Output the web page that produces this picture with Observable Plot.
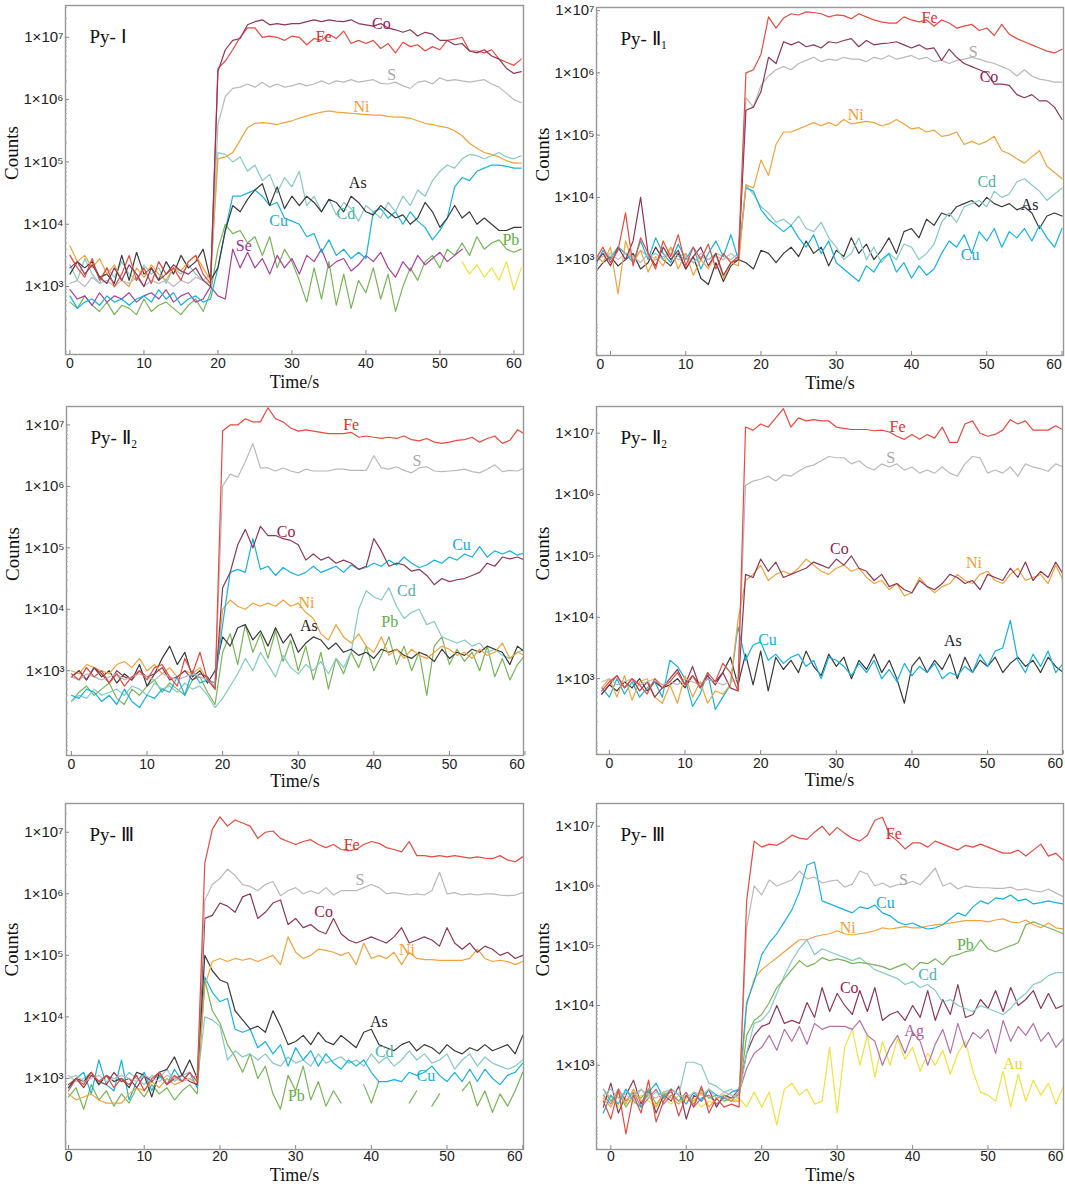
<!DOCTYPE html>
<html><head><meta charset="utf-8">
<script src="https://cdn.jsdelivr.net/npm/d3@7"></script>
<script src="https://cdn.jsdelivr.net/npm/@observablehq/plot@0.6"></script>
<style>
body{margin:0;background:#fff;}
#page{position:relative;width:1065px;height:1190px;overflow:hidden;background:#fff;}
.panel{position:absolute;}
</style></head><body><div id="page"></div>
<script>
// All series values are log10(counts), one value per second starting at each panel's t0.
const xTicks = [0, 10, 20, 30, 40, 50, 60];
const yTicks = [1e3, 1e4, 1e5, 1e6, 1e7];
const minorMultipliers = [2, 3, 4, 5, 6, 7, 8, 9];

// ---------- Py-I ----------
const pyI_t0 = 0;
const pyI_Fe = [3.5,3.3,3.15,3.45,3.1,3.3,3.0,3.2,3.5,3.1,3.3,3.05,3.4,3.2,3.3,3.1,3.4,3.5,3.2,3.05,6.5,6.62,6.8,7.0,7.15,7.15,7.0,7.02,7.0,6.95,7.02,7.0,6.88,6.98,6.95,7.05,6.98,7.1,6.9,6.95,6.9,6.95,6.82,6.9,6.75,6.92,6.85,6.88,6.78,6.85,6.8,6.95,6.97,7.0,6.78,6.78,6.75,6.8,6.65,6.6,6.55,6.65];
const pyI_Co = [3.3,3.4,3.2,3.35,3.15,3.05,3.3,3.1,3.35,3.2,3.0,3.3,3.1,3.2,3.35,3.25,3.2,3.3,3.1,3.0,6.45,6.8,6.95,6.98,7.2,7.25,7.28,7.2,7.22,7.2,7.22,7.22,7.25,7.28,7.25,7.28,7.26,7.25,7.28,7.22,7.2,7.18,7.22,7.15,7.12,7.08,7.12,7.02,7.08,7.05,6.95,6.95,6.88,6.9,6.78,6.75,6.8,6.7,6.65,6.5,6.42,6.45];
const pyI_S = [3.05,3.1,3.0,3.15,3.05,3.1,3.0,3.1,3.05,3.15,3.0,3.1,3.05,3.1,3.0,3.1,3.05,3.15,3.1,3.05,5.6,6.05,6.18,6.2,6.25,6.2,6.28,6.2,6.25,6.2,6.22,6.26,6.22,6.25,6.3,6.25,6.3,6.28,6.32,6.28,6.3,6.32,6.26,6.25,6.28,6.22,6.18,6.28,6.3,6.25,6.35,6.3,6.32,6.3,6.28,6.3,6.32,6.25,6.2,6.1,6.0,5.95];
const pyI_Ni = [3.65,3.4,3.5,3.3,3.45,3.2,3.35,3.1,3.0,3.3,3.15,3.35,3.2,3.1,3.3,3.25,3.4,3.5,3.3,3.1,5.05,5.08,5.15,5.35,5.55,5.62,5.63,5.62,5.6,5.63,5.66,5.7,5.74,5.77,5.8,5.82,5.8,5.79,5.78,5.77,5.76,5.75,5.75,5.73,5.72,5.72,5.7,5.66,5.62,5.6,5.57,5.55,5.5,5.42,5.3,5.22,5.15,5.12,5.08,5.02,4.98,4.98];
const pyI_Cd = [3.35,3.1,3.45,3.2,3.05,3.3,3.15,3.4,3.2,3.1,3.35,3.2,3.3,3.05,3.3,3.2,3.35,3.2,3.1,3.2,5.15,5.12,5.0,5.08,4.85,4.95,4.7,4.8,4.5,4.75,4.6,4.85,4.3,4.45,4.2,4.4,4.15,4.35,4.25,4.05,4.3,4.2,4.1,4.35,4.2,4.45,4.3,4.55,4.45,4.7,4.85,4.95,4.9,5.05,5.12,5.1,5.05,5.1,5.15,5.08,5.05,5.1];
const pyI_As = [3.2,3.4,3.3,3.4,3.15,3.2,3.05,3.5,3.1,3.55,3.2,3.3,3.1,3.4,3.2,3.5,3.3,3.4,3.6,3.1,3.3,3.9,4.3,4.2,4.4,4.55,4.65,4.3,4.6,4.25,4.45,4.3,4.45,4.35,4.2,4.4,4.35,4.2,4.45,4.35,4.2,4.15,4.3,4.2,4.1,4.15,4.0,4.1,4.35,4.2,3.95,4.1,4.3,4.1,4.2,4.0,4.1,4.0,3.9,3.9,3.95,3.95];
const pyI_Cu = [2.85,2.65,2.75,2.8,2.7,2.85,2.75,2.8,2.7,2.8,2.85,2.75,2.95,2.8,2.9,2.7,2.8,2.85,2.75,2.8,3.3,3.9,4.45,4.45,4.5,4.55,4.45,4.3,4.35,4.1,4.05,4.0,3.8,3.85,3.55,3.75,3.5,3.6,3.45,3.55,3.45,4.2,4.25,4.1,4.2,4.0,4.2,4.05,3.95,3.75,3.9,4.1,4.6,4.75,4.7,4.85,4.9,4.95,4.95,4.93,4.9,4.9];
const pyI_Se = [2.95,2.8,2.85,2.7,2.9,2.75,2.85,2.8,2.9,2.75,2.85,2.9,2.8,2.95,2.75,2.85,2.9,2.75,2.8,3.0,2.85,2.8,3.6,3.3,3.55,3.3,3.45,3.2,3.5,3.3,3.45,3.2,3.5,3.4,3.6,3.3,3.4,3.45,3.25,3.35,3.5,3.4,3.55,3.3,3.15,3.4,3.25,3.5,3.35,3.45,3.55,3.4,3.5,3.6];
const pyI_Pb = [2.75,2.65,2.85,2.7,2.6,2.75,2.55,2.7,2.65,2.55,2.8,2.6,2.7,2.75,2.65,2.55,2.7,2.8,2.6,2.9,3.6,4.0,3.85,3.9,3.7,3.8,3.5,3.8,3.3,3.6,3.4,3.1,2.75,3.3,2.8,3.4,2.7,3.2,2.65,3.1,2.9,3.3,2.8,3.2,2.6,3.0,3.3,3.1,3.4,3.5,3.3,3.6,3.5,3.7,3.5,3.8,3.6,3.7,3.75,3.6,3.55,3.6];
const pyI_AuT0 = 53;
const pyI_Au = [3.4,3.2,3.35,3.15,3.3,3.1,3.4,2.95,3.3];
const pyI_labels = [
  {el:"Co", t:42.1, v:7.22}, {el:"Fe", t:34.3, v:7.01}, {el:"S", t:43.5, v:6.40},
  {el:"Ni", t:39.4, v:5.89}, {el:"As", t:38.9, v:4.66}, {el:"Cd", t:37.3, v:4.17},
  {el:"Cu", t:28.2, v:4.05}, {el:"Se", t:23.5, v:3.66}, {el:"Pb", t:59.6, v:3.75}
];

// ---------- Py-II1 ----------
const pyII1_t0 = -2;
const pyII1_Fe = [3.0,3.2,2.95,3.15,3.75,2.9,3.35,3.1,2.85,3.3,3.05,3.4,2.9,3.2,3.0,3.25,2.85,3.1,2.95,3.05,6.0,6.05,6.3,6.9,6.72,6.88,6.95,6.93,6.98,6.97,6.95,6.9,6.93,6.92,6.87,6.95,6.9,6.85,6.82,6.8,6.8,6.9,6.85,6.82,6.85,6.75,6.85,6.8,6.72,6.75,6.78,6.68,6.72,6.6,6.78,6.62,6.55,6.5,6.45,6.4,6.35,6.32,6.38];
const pyII1_Co = [2.95,3.1,2.9,3.2,3.0,3.3,4.0,3.1,2.9,3.2,3.0,3.15,2.85,3.05,3.2,2.9,3.1,2.75,2.95,3.0,5.4,5.45,5.7,6.25,6.15,6.5,6.45,6.5,6.42,6.45,6.4,6.5,6.48,6.52,6.55,6.42,6.52,6.45,6.47,6.48,6.5,6.45,6.4,6.45,6.38,6.4,6.2,6.38,6.25,6.15,6.1,6.05,6.0,5.82,5.82,5.8,5.65,5.6,5.65,5.55,5.55,5.45,5.25];
const pyII1_S = [3.0,3.05,3.1,3.0,3.1,3.05,2.95,3.1,3.0,3.05,3.1,3.0,3.05,2.95,3.1,3.0,3.05,3.0,3.1,3.0,5.6,5.45,5.8,5.95,6.05,6.1,6.05,6.15,6.2,6.25,6.18,6.22,6.2,6.25,6.22,6.22,6.18,6.25,6.22,6.28,6.22,6.25,6.28,6.22,6.25,6.18,6.2,6.15,6.2,6.22,6.25,6.22,6.18,6.15,6.1,6.05,5.95,6.05,5.95,5.9,5.88,5.85,5.85];
const pyII1_Ni = [3.1,2.95,3.2,2.45,3.3,2.95,3.15,2.8,3.05,2.9,3.2,2.85,3.1,2.75,3.0,2.85,3.1,2.7,2.95,2.9,4.2,4.15,4.6,4.35,4.85,5.05,5.05,5.1,5.15,5.2,5.15,5.2,5.15,5.25,5.18,5.2,5.22,5.2,5.15,5.18,5.25,5.18,5.1,5.12,5.05,5.08,4.98,5.0,5.05,4.85,4.9,4.85,4.9,4.98,4.75,4.7,4.62,4.55,4.65,4.75,4.5,4.4,4.3];
const pyII1_Cd = [3.0,3.1,3.05,3.2,3.1,3.0,3.15,3.05,3.1,3.0,3.2,3.05,3.1,2.95,3.05,3.0,3.1,3.05,3.0,3.1,4.2,4.05,3.85,3.75,3.6,3.65,3.55,3.7,3.5,3.45,3.6,3.35,3.2,3.0,3.1,3.35,3.0,3.2,2.95,3.1,3.0,3.25,3.2,3.0,3.1,3.25,3.6,3.75,3.6,3.85,3.9,3.95,3.85,4.1,4.0,4.05,4.25,4.3,4.2,4.1,3.95,4.05,4.15];
const pyII1_As = [2.8,2.95,3.05,2.9,3.0,3.1,2.85,2.95,3.2,3.0,2.9,3.1,2.85,3.05,2.7,2.6,2.95,2.65,2.9,3.0,2.95,2.85,3.15,3.1,2.95,3.1,3.2,3.05,3.3,3.1,3.2,2.9,3.15,3.05,3.35,3.1,3.25,3.0,3.15,3.35,3.1,3.45,3.5,3.35,3.65,3.55,3.75,3.7,3.85,3.9,3.95,3.85,4.0,3.9,3.85,3.9,3.8,3.85,3.75,3.5,3.7,3.75,3.7];
const pyII1_Cu = [2.9,3.15,3.0,3.2,3.1,2.95,3.3,3.0,3.35,3.1,2.95,3.25,3.0,3.2,2.85,3.1,3.3,3.05,3.4,3.0,4.15,4.1,3.8,3.65,3.55,3.45,3.55,3.35,3.2,3.4,3.1,3.3,2.95,2.85,2.75,2.65,2.9,2.8,3.0,3.1,2.8,2.95,2.7,2.9,2.75,2.85,3.1,3.3,3.2,3.4,3.1,3.45,3.3,3.5,3.2,3.45,3.35,3.5,3.3,3.55,3.35,3.2,3.5];
const pyII1_labels = [
  {el:"Fe", t:42.4, v:6.89}, {el:"S", t:48.2, v:6.34}, {el:"Co", t:50.3, v:5.93},
  {el:"Ni", t:32.6, v:5.33}, {el:"Cd", t:50.0, v:4.25}, {el:"As", t:55.7, v:3.88},
  {el:"Cu", t:47.8, v:3.08}
];

// ---------- Py-II2 (left) ----------
const pyII2a_t0 = 0;
const pyII2a_Fe = [2.95,2.85,3.05,2.9,3.0,2.8,2.95,2.75,2.9,3.0,2.85,3.05,3.1,2.9,2.75,3.2,2.95,3.3,2.85,2.7,6.9,7.0,7.0,7.1,7.05,7.05,7.28,7.1,7.05,6.95,6.9,6.92,6.9,6.88,6.86,6.86,6.86,6.88,6.8,6.82,6.8,6.78,6.8,6.78,6.82,6.76,6.74,6.78,6.72,6.7,6.72,6.75,6.76,6.8,6.72,6.78,6.82,6.7,6.75,6.92,6.85,6.95];
const pyII2a_S = [2.9,2.85,2.95,2.9,2.85,2.9,2.95,2.85,2.9,2.95,2.9,2.85,2.95,2.9,2.85,2.9,2.95,2.9,2.85,2.75,6.0,6.2,6.15,6.4,6.7,6.3,6.3,6.25,6.3,6.25,6.22,6.28,6.25,6.25,6.25,6.28,6.28,6.26,6.26,6.26,6.5,6.3,6.28,6.32,6.26,6.22,6.3,6.32,6.25,6.24,6.25,6.26,6.28,6.24,6.22,6.28,6.35,6.24,6.26,6.25,6.3,6.3];
const pyII2a_Co = [2.9,3.0,2.85,3.05,2.95,2.8,3.0,2.9,2.85,3.0,2.9,2.95,3.05,2.85,2.9,3.0,2.85,2.95,2.9,2.7,4.35,4.6,5.05,5.3,5.0,5.35,5.2,5.2,5.15,5.12,5.05,4.8,4.9,4.8,4.85,4.75,4.8,4.75,4.65,4.7,5.15,4.95,4.7,4.75,4.72,4.62,4.65,4.55,4.4,4.5,4.45,4.48,4.5,4.55,4.6,4.75,4.7,4.85,4.82,4.85,4.8,4.95];
const pyII2a_Cu = [2.6,2.55,2.7,2.65,2.5,2.6,2.45,2.7,2.5,2.4,2.6,2.55,2.7,2.65,2.9,2.6,3.0,2.8,2.85,2.8,3.75,4.6,4.65,4.6,5.15,4.65,4.7,4.55,4.68,4.6,4.55,4.6,4.7,4.6,4.65,4.7,4.6,4.72,4.65,4.68,4.75,4.7,4.8,4.72,4.85,4.75,4.68,4.72,4.8,4.75,4.85,4.8,4.9,4.85,5.02,4.85,4.95,4.9,4.95,4.88,4.92,5.0];
const pyII2a_Ni = [3.0,2.95,3.1,3.05,3.0,2.95,3.1,3.15,3.05,3.2,3.0,3.1,2.95,3.05,2.9,3.0,2.95,3.05,2.85,2.75,4.0,4.15,4.05,4.0,4.1,4.05,4.1,4.05,4.15,4.05,4.1,3.95,3.85,3.6,3.5,3.75,3.55,3.45,3.6,3.4,3.3,3.55,3.25,3.35,3.2,3.35,3.25,3.2,3.3,3.4,3.35,3.25,3.3,3.2,3.35,3.25,3.3,3.45,3.2,3.3,3.25,3.4];
const pyII2a_Cd = [2.5,2.6,2.55,2.7,2.6,2.65,2.7,2.6,2.75,2.7,2.6,2.8,2.7,2.75,2.65,2.8,2.7,2.75,2.6,2.4,2.55,2.75,2.95,3.2,3.0,3.3,3.1,2.9,3.25,3.05,2.95,3.1,3.0,3.15,2.95,3.2,3.05,3.3,4.0,4.3,4.2,4.15,4.35,4.05,3.85,3.95,4.0,3.75,3.8,3.55,3.5,3.45,3.5,3.4,3.45,3.3,3.35,3.25,3.2,3.3,3.35,3.6];
const pyII2a_As = [2.9,3.0,2.85,3.05,2.9,3.0,2.8,2.95,2.85,3.1,2.75,2.95,3.2,3.4,3.1,3.3,2.9,3.0,2.8,3.0,3.55,3.4,3.7,3.75,3.5,3.65,3.4,3.7,3.45,3.6,3.3,3.45,3.55,3.5,3.35,3.45,3.3,3.35,3.25,3.3,3.2,3.35,3.3,3.35,3.25,3.2,3.3,3.25,3.15,3.35,3.2,3.3,3.25,3.35,3.3,3.4,3.35,3.3,3.1,3.4,3.3,3.55];
const pyII2a_Pb = [2.5,2.65,2.75,2.6,2.7,2.8,2.55,2.45,2.7,2.6,2.75,2.85,2.65,2.8,2.7,2.6,2.85,2.9,2.65,2.45,3.3,3.6,3.1,3.75,3.3,3.6,3.2,3.65,3.15,3.5,3.0,3.4,2.85,3.3,2.7,3.2,2.95,3.3,3.05,3.4,3.0,3.25,3.55,3.1,3.4,3.0,3.3,2.6,3.4,3.55,3.1,3.35,3.15,3.3,3.0,3.4,2.9,3.2,2.85,3.1,3.25,3.4];
const pyII2a_labels = [
  {el:"Fe", t:37.0, v:7.0}, {el:"S", t:45.7, v:6.42}, {el:"Co", t:28.4, v:5.26},
  {el:"Cu", t:51.6, v:5.04}, {el:"Cd", t:44.3, v:4.30}, {el:"Ni", t:31.1, v:4.11},
  {el:"Pb", t:42.1, v:3.79}, {el:"As", t:31.4, v:3.73}
];

// ---------- Py-II2 (right) ----------
const pyII2b_t0 = -1;
const pyII2b_Fe = [2.8,2.95,3.05,2.85,3.0,2.9,2.75,3.0,2.85,2.95,3.1,2.9,3.05,2.85,3.1,2.95,3.25,3.1,2.8,7.1,7.05,7.15,7.1,7.25,7.4,7.1,7.25,7.2,7.22,7.2,7.2,7.1,7.08,7.06,7.06,7.06,7.04,7.05,7.02,6.95,6.9,6.98,6.9,6.98,6.92,7.1,6.85,6.85,7.15,7.2,7.0,6.95,6.98,7.05,7.22,7.15,7.2,7.05,7.05,7.05,7.12,7.05];
const pyII2b_S = [2.95,3.0,2.9,2.95,3.0,2.9,2.95,3.0,2.9,2.95,2.9,3.0,2.95,2.9,3.0,2.95,2.9,2.95,3.0,6.15,6.22,6.25,6.3,6.22,6.32,6.3,6.38,6.45,6.48,6.55,6.62,6.6,6.6,6.5,6.55,6.45,6.4,6.5,6.45,6.5,6.4,6.45,6.35,6.4,6.35,6.45,6.35,6.3,6.5,6.62,6.6,6.35,6.4,6.35,6.45,6.3,6.5,6.45,6.42,6.38,6.5,6.45];
const pyII2b_Co = [2.75,2.9,3.05,2.85,3.0,2.8,2.95,2.7,2.85,3.0,3.15,2.9,3.2,2.85,3.05,2.9,3.1,2.85,2.8,4.7,4.65,4.95,4.75,4.9,4.65,4.7,4.75,4.8,4.9,4.85,4.8,4.95,4.85,5.0,4.8,4.75,4.6,4.7,4.5,4.55,4.45,4.4,4.6,4.5,4.45,4.55,4.7,4.65,4.55,4.6,4.45,4.7,4.65,4.6,4.8,4.65,4.9,4.6,4.75,4.65,4.9,4.7];
const pyII2b_Ni = [2.85,3.0,2.7,3.05,2.65,2.95,3.0,2.7,2.6,2.9,2.6,3.05,2.7,2.95,2.6,2.8,2.75,2.9,3.95,4.6,4.7,4.85,4.6,4.7,4.75,4.7,4.8,4.95,4.85,4.75,4.7,4.8,4.85,4.75,4.8,4.65,4.55,4.6,4.45,4.55,4.35,4.4,4.65,4.5,4.4,4.5,4.55,4.7,4.6,4.55,4.7,4.75,4.6,4.55,4.7,4.8,4.6,4.65,4.7,4.55,4.85,4.6];
const pyII2b_Cu = [2.85,2.7,3.0,2.75,2.95,2.7,2.85,2.95,2.7,3.3,3.2,3.0,2.55,2.75,3.1,2.5,2.7,2.9,3.85,3.3,3.55,3.6,3.3,3.4,3.25,3.35,3.4,3.2,3.3,3.0,3.35,3.3,3.2,3.05,3.25,3.1,3.3,3.0,3.15,2.95,3.25,3.05,3.2,3.1,3.25,3.0,3.1,3.05,3.2,3.1,3.4,3.2,3.45,3.5,3.95,3.3,3.1,3.4,3.2,3.45,3.1,3.25];
const pyII2b_As = [2.75,2.9,2.8,2.95,2.85,3.0,2.8,2.95,2.85,2.9,3.0,2.85,3.05,2.9,3.0,2.95,3.1,3.35,2.9,3.4,2.9,3.45,2.8,3.35,3.15,3.3,3.1,3.45,3.2,3.05,3.4,3.2,3.35,3.0,3.3,3.15,3.4,3.1,3.3,3.0,2.6,3.2,3.35,3.1,3.3,3.15,3.4,3.0,3.35,3.1,3.3,3.2,3.35,3.1,3.25,3.35,3.2,3.3,3.1,3.35,3.2,3.1];
const pyII2b_labels = [
  {el:"Fe", t:38.1, v:7.11}, {el:"S", t:37.2, v:6.59}, {el:"Co", t:30.4, v:5.11},
  {el:"Ni", t:48.2, v:4.88}, {el:"Cu", t:20.9, v:3.64}, {el:"As", t:45.4, v:3.61}
];

// ---------- Py-III (left) ----------
const pyIIIa_t0 = 0;
const pyIIIa_Fe = [2.8,3.0,2.9,3.1,2.95,3.05,2.85,3.0,2.9,3.05,2.8,3.0,3.1,2.9,3.05,2.95,3.1,2.95,6.5,7.05,7.25,7.1,7.2,7.15,7.1,6.9,7.0,7.02,6.9,6.85,6.8,6.85,6.88,6.8,6.75,6.8,6.72,6.7,6.72,6.8,6.85,6.82,6.75,6.72,6.68,6.85,6.62,6.62,6.6,6.62,6.6,6.62,6.6,6.58,6.6,6.58,6.57,6.62,6.55,6.52,6.6];
const pyIIIa_S = [3.0,3.05,2.95,3.0,3.05,2.95,3.0,3.05,3.0,2.95,3.05,3.0,2.95,3.05,3.0,2.95,3.0,3.05,5.9,6.15,6.25,6.4,6.3,6.15,6.12,6.05,6.15,6.2,5.97,6.05,6.1,6.0,6.05,6.0,6.1,5.98,6.05,6.05,6.05,6.1,6.15,6.1,6.0,6.02,6.0,5.98,6.0,5.98,6.05,6.35,6.0,6.02,5.98,6.0,5.98,6.0,6.0,5.98,5.97,5.98,6.02];
const pyIIIa_Co = [2.9,3.0,2.85,3.05,2.95,2.9,3.1,2.95,3.0,2.85,3.05,2.95,3.1,2.9,3.0,3.05,2.95,2.9,5.6,5.65,5.85,5.8,5.7,5.95,6.0,5.6,5.7,5.85,5.9,5.5,5.6,5.45,5.5,5.4,5.35,5.6,5.35,5.25,5.2,5.25,5.3,5.25,5.2,5.3,5.45,5.2,5.25,5.3,5.25,5.15,5.45,5.2,5.1,5.2,5.05,5.15,5.1,5.0,5.05,4.95,5.0];
const pyIIIa_Ni = [2.75,2.65,2.7,2.75,2.65,2.6,2.6,2.6,2.75,2.85,2.8,2.95,2.85,3.0,2.9,2.95,3.0,2.9,4.5,4.9,4.95,4.9,4.95,4.92,4.95,4.9,4.95,5.0,4.85,5.3,5.05,4.95,5.0,5.1,5.08,5.05,5.0,5.05,4.85,5.2,4.95,5.0,4.95,5.05,4.85,5.05,4.95,4.93,4.93,4.92,4.92,4.92,4.92,4.95,5.1,4.95,4.9,4.92,4.9,4.85,4.9];
const pyIIIa_As = [2.85,3.0,2.95,3.1,2.9,3.05,2.95,3.0,2.85,3.1,3.05,2.7,3.1,3.15,3.35,3.05,3.3,3.0,5.0,4.75,4.6,4.55,4.1,3.95,3.8,3.85,3.75,4.1,3.85,3.55,3.6,3.7,3.55,3.75,3.6,3.55,3.7,3.6,3.5,3.75,3.8,3.55,3.5,3.45,3.55,3.6,3.45,3.55,3.5,3.4,3.55,3.45,3.4,3.5,3.45,3.55,3.45,3.5,3.55,3.4,3.7];
const pyIIIa_Cd = [3.05,2.95,3.0,3.1,2.9,3.05,3.0,2.95,3.1,3.0,2.9,3.05,3.0,3.15,2.95,3.05,3.1,2.95,4.0,3.95,3.85,3.3,3.45,3.35,3.4,3.3,3.4,3.25,3.2,3.35,3.25,3.3,3.2,3.4,3.25,3.3,3.35,3.25,3.3,3.2,3.4,3.25,3.35,3.2,3.3,3.45,3.3,3.4,3.25,3.3,3.4,3.15,3.3,3.4,3.2,3.35,3.25,3.2,3.15,3.2,3.3];
const pyIIIa_Cu = [2.85,3.0,3.1,2.75,3.3,2.9,2.8,3.3,2.65,2.95,3.1,2.8,3.05,2.9,3.15,2.95,3.1,2.85,4.65,4.4,4.25,4.3,3.8,3.75,3.8,3.5,3.6,3.4,3.55,3.2,3.5,3.3,3.45,3.2,3.4,3.25,3.15,3.3,3.2,3.3,3.1,2.95,2.95,2.98,2.95,3.1,3.05,3.1,3.2,3.05,2.95,3.1,2.95,3.15,2.95,3.15,3.0,2.9,3.05,3.1,3.25];
const pyIIIa_Pb = [2.7,2.85,2.5,2.9,2.65,2.8,2.55,2.75,2.6,2.85,2.7,2.9,2.75,2.85,2.65,2.8,2.9,2.75,4.6,4.1,3.9,3.55,3.35,3.1,3.4,3.0,3.2,2.75,2.5,3.05,2.8,3.2,2.65,2.95,2.55,2.8,2.6,null,null,2.9,2.6,2.95,null,null,null,2.6,2.8,null,2.55,2.75,null,null,2.8,2.95,2.55,2.8,2.45,2.75,2.55,2.8,3.1];
const pyIIIa_labels = [
  {el:"Fe", t:37.4, v:6.79}, {el:"S", t:38.5, v:6.23}, {el:"Co", t:33.7, v:5.71},
  {el:"Ni", t:44.7, v:5.09}, {el:"As", t:41.0, v:3.92}, {el:"Cd", t:41.7, v:3.44},
  {el:"Cu", t:47.2, v:3.04}, {el:"Pb", t:30.1, v:2.72}
];

// ---------- Py-III (right) ----------
const pyIIIb_t0 = -1;
const pyIIIb_Fe = [2.4,2.1,2.6,1.85,2.5,2.2,2.75,2.05,2.4,2.6,2.15,2.5,2.3,2.65,2.2,2.45,2.3,2.35,2.3,5.75,6.75,6.65,6.7,6.68,6.75,6.85,6.8,6.78,6.9,7.0,6.85,6.98,6.88,6.8,6.75,6.85,7.1,7.15,6.85,6.75,6.62,6.72,6.72,6.65,6.75,6.7,6.65,6.6,6.68,6.65,6.7,6.65,6.6,6.55,6.55,6.6,6.5,6.6,6.7,6.5,6.55,6.42];
const pyIIIb_S = [2.6,2.45,2.55,2.5,2.4,2.6,2.5,2.45,2.55,2.6,2.5,2.45,2.55,2.5,2.6,2.45,2.55,2.5,2.45,5.3,6.0,5.85,6.1,6.0,6.05,6.1,6.25,6.12,6.15,6.05,6.08,6.1,5.98,6.03,6.25,6.2,6.0,6.05,5.98,6.02,6.03,6.08,6.02,6.15,6.3,6.0,6.05,5.95,6.0,5.98,5.97,5.97,5.96,5.96,5.98,5.93,5.95,5.92,5.9,5.95,5.88,5.82];
const pyIIIb_Cu = [2.2,2.5,2.35,2.6,2.4,2.3,2.55,2.7,2.45,2.6,2.5,2.35,2.55,2.4,2.6,2.5,2.45,2.55,2.6,4.05,4.4,4.85,5.05,5.2,5.4,5.6,5.9,6.35,6.4,5.75,5.7,5.65,5.6,5.55,5.65,5.62,5.68,5.55,5.5,5.4,5.35,5.38,5.32,5.28,5.3,5.35,5.45,5.55,5.5,5.65,5.75,5.7,5.8,5.78,5.85,5.75,5.78,5.7,5.72,5.75,5.72,5.7];
const pyIIIb_Ni = [2.45,2.3,2.55,2.35,2.6,2.4,2.5,2.3,2.55,2.45,2.35,2.5,2.4,2.55,2.3,2.45,2.5,2.4,2.4,4.0,4.45,4.6,4.7,4.8,4.9,5.0,5.1,5.1,5.15,5.18,5.2,5.25,5.2,5.18,5.2,5.22,5.25,5.3,5.28,5.3,5.32,5.3,5.3,5.33,5.35,5.36,5.38,5.4,5.42,5.42,5.42,5.4,5.43,5.45,5.4,5.38,5.43,5.35,5.3,5.38,5.3,5.28];
const pyIIIb_Pb = [2.6,2.4,2.55,2.3,2.5,2.45,2.6,2.35,2.5,2.55,2.4,2.5,2.35,2.6,2.45,2.5,2.4,2.45,2.5,3.5,3.75,3.85,4.05,4.3,4.45,4.6,4.75,4.65,4.7,4.8,4.75,4.78,4.75,4.7,4.72,4.7,4.68,4.65,4.6,4.65,4.7,4.6,4.72,4.7,4.78,4.68,4.82,4.85,4.9,4.92,5.1,4.95,4.9,4.95,5.0,5.05,5.35,5.4,5.35,5.3,5.25,5.2];
const pyIIIb_Cd = [2.5,2.6,2.45,2.55,2.5,2.6,2.45,2.55,2.5,2.6,2.5,3.05,3.05,3.0,2.7,2.65,2.55,2.6,2.5,3.2,3.7,3.75,3.9,4.2,4.5,4.75,4.95,5.1,4.85,4.95,4.9,4.85,4.8,4.75,4.8,4.7,4.6,4.55,4.5,4.45,4.35,4.4,4.3,4.35,4.25,4.05,4.1,4.0,3.95,3.9,4.0,3.95,3.9,3.85,3.95,4.1,4.2,4.35,4.4,4.5,4.55,4.55];
const pyIIIb_Co = [2.3,2.7,2.2,2.5,2.75,2.35,2.6,2.2,2.5,2.4,2.65,2.1,2.5,2.4,2.6,2.3,2.5,2.45,2.6,3.2,3.5,3.65,3.7,4.0,3.7,3.75,3.7,4.05,3.8,4.3,3.9,4.2,4.0,3.85,4.25,3.9,4.3,3.75,3.85,3.9,3.75,4.0,3.8,4.25,3.75,4.1,3.85,4.35,3.8,3.85,4.1,3.95,4.25,3.9,4.3,4.0,4.1,4.25,3.95,4.2,3.95,4.0];
const pyIIIb_Ag = [2.5,2.35,2.6,2.4,2.55,2.3,2.45,2.6,2.35,2.5,2.4,2.55,2.3,2.45,2.5,2.35,2.45,2.4,2.55,2.95,3.2,3.3,3.5,3.25,3.6,3.4,3.65,3.35,3.7,3.6,3.65,3.65,3.65,3.6,3.75,3.5,3.4,3.0,3.3,3.5,3.2,3.55,3.4,3.0,3.35,3.6,3.2,3.7,3.3,3.55,3.45,3.6,3.2,3.75,3.4,3.65,3.5,3.7,3.4,3.55,3.3,3.45];
const pyIIIb_Au = [2.4,2.5,2.3,2.45,2.35,2.5,2.4,2.3,2.45,2.35,2.5,2.4,2.45,2.3,2.4,2.35,2.45,2.4,2.45,2.3,2.55,2.3,2.55,2.0,2.6,2.7,2.5,2.6,2.35,2.4,3.3,2.2,3.3,3.6,3.0,3.5,2.8,3.4,3.0,3.45,3.1,3.3,2.9,3.2,3.0,3.25,2.85,3.2,3.4,2.9,2.55,2.5,2.4,2.9,2.3,2.85,2.4,2.75,2.5,2.7,2.35,2.65];
const pyIIIb_labels = [
  {el:"Fe", t:37.5, v:6.88}, {el:"S", t:38.8, v:6.11}, {el:"Cu", t:36.4, v:5.72},
  {el:"Ni", t:31.4, v:5.30}, {el:"Pb", t:47.0, v:5.02}, {el:"Cd", t:42.0, v:4.52},
  {el:"Co", t:31.6, v:4.30}, {el:"Ag", t:40.2, v:3.58}, {el:"Au", t:53.3, v:3.03}
];

// ---------- styling ----------
const lineColor = {Fe:"#e84a40", Co:"#8d3858", S:"#bababa", Ni:"#f2a33c", Cd:"#86cbc3", As:"#3a3a3a",
  Cu:"#14b3e2", Se:"#a8409a", Pb:"#78b558", Au:"#f3e13e", Ag:"#b472aa"};
const textColor = {Fe:"#e02f30", Co:"#9b2350", S:"#a8a8a8", Ni:"#f0a02a", Cd:"#48b4aa", As:"#1e1e1e",
  Cu:"#0fb0e0", Se:"#a03090", Pb:"#62ad3e", Au:"#f0d820", Ag:"#b05a9e"};
const serif = "'Liberation Serif','Times New Roman',serif";
const sans = "'Liberation Sans',Arial,sans-serif";
const sup = {3:"³", 4:"⁴", 5:"⁵", 6:"⁶", 7:"⁷"};

const panels = [
  {title:"Py- Ⅰ", t0:pyI_t0, series:[["Pb",pyI_Pb],["Se",pyI_Se],["Cu",pyI_Cu],["Cd",pyI_Cd],["As",pyI_As],["Ni",pyI_Ni],["S",pyI_S],["Fe",pyI_Fe],["Co",pyI_Co]],
   extra:[["Au",pyI_Au,pyI_AuT0]], labels:pyI_labels,
   left:0, top:0, width:533, height:399, ml:65, mr:10, mt:5, mb:45, xd:[-0.6,61.3], yd:[1.91,7.51], last60:false, zeroDx:0, xlab:33, pad:4},
  {title:"Py- Ⅱ₁", t0:pyII1_t0, series:[["As",pyII1_As],["Cd",pyII1_Cd],["Cu",pyII1_Cu],["Ni",pyII1_Ni],["S",pyII1_S],["Co",pyII1_Co],["Fe",pyII1_Fe]],
   extra:[], labels:pyII1_labels,
   left:530, top:0, width:535, height:399, ml:66, mr:2, mt:7, mb:44, xd:[-1.86,60.2], yd:[1.46,7.05], last60:true, zeroDx:-10, xlab:33, pad:4},
  {title:"Py- Ⅱ₂", t0:pyII2a_t0, series:[["Pb",pyII2a_Pb],["Cd",pyII2a_Cd],["As",pyII2a_As],["Ni",pyII2a_Ni],["Cu",pyII2a_Cu],["Co",pyII2a_Co],["S",pyII2a_S],["Fe",pyII2a_Fe]],
   extra:[], labels:pyII2a_labels,
   left:0, top:400, width:533, height:399, ml:66, mr:10, mt:6, mb:44, xd:[-0.65,59.8], yd:[1.62,7.30], last60:true, zeroDx:0, xlab:31, pad:4},
  {title:"Py- Ⅱ₂", t0:pyII2b_t0, series:[["As",pyII2b_As],["Cu",pyII2b_Cu],["Ni",pyII2b_Ni],["Co",pyII2b_Co],["S",pyII2b_S],["Fe",pyII2b_Fe]],
   extra:[], labels:pyII2b_labels,
   left:530, top:400, width:535, height:399, ml:66, mr:3, mt:6, mb:45, xd:[-1.7,59.9], yd:[1.765,7.435], last60:true, zeroDx:0, xlab:31, pad:4},
  {title:"Py- Ⅲ", t0:pyIIIa_t0, series:[["Pb",pyIIIa_Pb],["Cd",pyIIIa_Cd],["Cu",pyIIIa_Cu],["As",pyIIIa_As],["Ni",pyIIIa_Ni],["Co",pyIIIa_Co],["S",pyIIIa_S],["Fe",pyIIIa_Fe]],
   extra:[], labels:pyIIIa_labels,
   left:0, top:795, width:533, height:395, ml:65, mr:10, mt:8, mb:41, xd:[-0.4,60.1], yd:[1.846,7.467], last60:true, zeroDx:0, xlab:31, pad:2},
  {title:"Py- Ⅲ", t0:pyIIIb_t0, series:[["Au",pyIIIb_Au],["Ag",pyIIIb_Ag],["Co",pyIIIb_Co],["Cd",pyIIIb_Cd],["Pb",pyIIIb_Pb],["Ni",pyIIIb_Ni],["Cu",pyIIIb_Cu],["S",pyIIIb_S],["Fe",pyIIIb_Fe]],
   extra:[], labels:pyIIIb_labels,
   left:530, top:795, width:535, height:395, ml:66, mr:2, mt:8, mb:41, xd:[-1.9,60.0], yd:[1.59,7.38], last60:true, zeroDx:0, xlab:31, pad:2}
];

const page = document.getElementById("page");
panels.forEach((p) => {
  const data = [];
  const addSeries = (el, arr, t0, key) => arr.forEach((v, i) =>
    data.push({key, el, t: t0 + i, c: v == null ? NaN : Math.pow(10, v)}));
  p.series.forEach(([el, arr]) => addSeries(el, arr, p.t0, el));
  p.extra.forEach(([el, arr, t0]) => addSeries(el, arr, t0, el + "2"));
  const H = p.height - p.mt - p.mb;
  const W = p.width - p.ml - p.mr;
  const yLo = Math.pow(10, p.yd[0]), yHi = Math.pow(10, p.yd[1]);
  const minor = [];
  for (let e = Math.floor(p.yd[0]); e <= Math.ceil(p.yd[1]); e++)
    minorMultipliers.forEach(m => { const v = m * Math.pow(10, e); if (v > yLo && v < yHi) minor.push(v); });
  const inner = xTicks.filter(t => t > 0 && t < 60);
  const axisOpts = {tickSize: 0, tickPadding: p.pad, fontSize: 14, fontFamily: sans, label: null};
  const marks = [
    Plot.line(data, {x: "t", y: "c", z: "key", stroke: d => lineColor[d.el], strokeWidth: 1.2, clip: true}),
    Plot.frame({stroke: "#979797", strokeWidth: 1.4}),
    Plot.tickX(xTicks, {x: d => d, insetTop: H - 4, stroke: "#888"}),
    Plot.tickY(yTicks, {y: d => d, insetRight: W - 4, stroke: "#888"}),
    Plot.tickY(minor, {y: d => d, insetRight: W - 2, stroke: "#aaa"}),
    Plot.axisY(yTicks, {tickSize: 0, tickPadding: 2, fontSize: 15, fontFamily: sans,
      tickFormat: d => "1×10" + sup[Math.round(Math.log10(d))], label: null}),
    Plot.axisX(inner, axisOpts),
    Plot.axisX([0], {...axisOpts, dx: p.zeroDx}),
    Plot.axisX([60], {...axisOpts, dx: p.last60 ? -8 : 0}),
    ...p.labels.map(l => Plot.text([l], {x: "t", y: d => Math.pow(10, d.v), text: "el",
      fill: textColor[l.el], fontFamily: serif, fontSize: 16})),
    Plot.text([p.title], {frameAnchor: "top-left", dx: 24, dy: 24, textAnchor: "start",
      fontFamily: serif, fontSize: 19, fill: "#111"}),
    Plot.text(["Time/s"], {frameAnchor: "bottom", dy: p.xlab, fontFamily: serif, fontSize: 18, fill: "#111"}),
    Plot.text(["Counts"], {frameAnchor: "left", dx: -54, rotate: -90, fontFamily: serif, fontSize: 19, fill: "#111"})
  ];
  const chart = Plot.plot({
    width: p.width, height: p.height,
    marginLeft: p.ml, marginRight: p.mr, marginTop: p.mt, marginBottom: p.mb,
    style: {fontFamily: sans, fontSize: "14px", color: "#222", background: "transparent", overflow: "visible"},
    x: {domain: p.xd},
    y: {type: "log", domain: [yLo, yHi]},
    marks
  });
  const div = document.createElement("div");
  div.className = "panel";
  div.style.left = p.left + "px";
  div.style.top = p.top + "px";
  div.appendChild(chart);
  page.appendChild(div);
});
</script>
</body></html>
